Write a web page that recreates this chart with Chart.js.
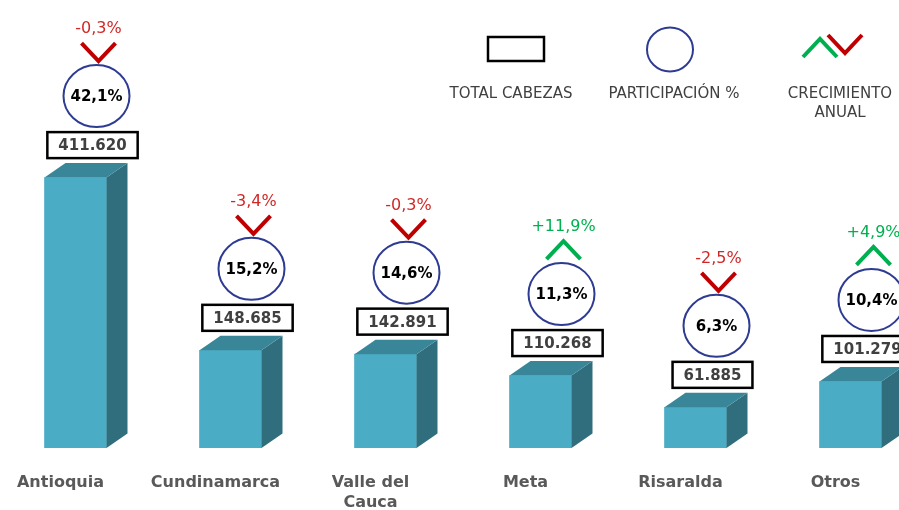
<!DOCTYPE html>
<html lang="es">
<head>
    <meta charset="UTF-8">
    <title>Inventario por departamento</title>
    <script src="https://cdn.jsdelivr.net/npm/chart.js"></script>
</head>
<style>
    html, body {
        margin: 0;
        padding: 0;
        background: white;
        overflow: hidden;
    }
    .chart-box {
        position: absolute;
        left: -2px;
        top: 0;
        width: 930px;
        height: 510px;
    }
</style>
<body>
    <div class="chart-box">
        <canvas id="barChart"></canvas>
    </div>
    <script>
        // datos
        const departamentos = ["Antioquia", "Cundinamarca", ["Valle del", "Cauca"], "Meta", "Risaralda", "Otros"];
        const totalCabezas = [411620, 148685, 142891, 110268, 61885, 101279];
        const participacion = [42.1, 15.2, 14.6, 11.3, 6.3, 10.4];
        const crecimiento = [-0.3, -3.4, -0.3, 11.9, -2.5, 4.9];

        const FONT = "'DejaVu Sans', sans-serif";
        const ROJO = "#C00000";
        const VERDE = "#00B050";
        const AZUL = "#2E3B92";

        function miles(n) {
            return n.toString().replace(/\B(?=(\d{3})+(?!\d))/g, ".");
        }
        function coma(n) {
            return n.toFixed(1).replace(".", ",");
        }

        function chevron(ctx, cx, top, up, color) {
            ctx.save();
            ctx.strokeStyle = color;
            ctx.lineWidth = 4;
            ctx.lineJoin = "miter";
            ctx.beginPath();
            if (up) {
                ctx.moveTo(cx - 17, top + 18);
                ctx.lineTo(cx, top);
                ctx.lineTo(cx + 17, top + 18);
            } else {
                ctx.moveTo(cx - 17, top);
                ctx.lineTo(cx, top + 18);
                ctx.lineTo(cx + 17, top);
            }
            ctx.stroke();
            ctx.restore();
        }

        // caras 3D y etiquetas
        const barras3D = {
            id: "barras3D",
            afterDatasetsDraw(chart) {
                const ctx = chart.ctx;
                const meta = chart.getDatasetMeta(0);
                const dx = 21, dy = 14.5;
                meta.data.forEach((bar, i) => {
                    const w = bar.width;
                    const l = bar.x - w / 2, r = bar.x + w / 2;
                    const t = bar.y, b = bar.base;
                    ctx.save();
                    // cara lateral
                    ctx.fillStyle = "#306E7D";
                    ctx.beginPath();
                    ctx.moveTo(r, t);
                    ctx.lineTo(r + dx, t - dy);
                    ctx.lineTo(r + dx, b - dy);
                    ctx.lineTo(r, b);
                    ctx.closePath();
                    ctx.fill();
                    // cara superior
                    ctx.fillStyle = "#3A8699";
                    ctx.beginPath();
                    ctx.moveTo(l, t);
                    ctx.lineTo(l + dx, t - dy);
                    ctx.lineTo(r + dx, t - dy);
                    ctx.lineTo(r, t);
                    ctx.closePath();
                    ctx.fill();

                    const yb = t - dy;
                    // caja total
                    ctx.font = "bold 15px " + FONT;
                    const txt = miles(totalCabezas[i]);
                    const bw = ctx.measureText(txt).width + 22;
                    const bh = 26;
                    const bx = bar.x + 17;
                    const boxTop = yb - 5 - bh;
                    ctx.fillStyle = "white";
                    ctx.fillRect(bx - bw / 2, boxTop, bw, bh);
                    ctx.strokeStyle = "#000";
                    ctx.lineWidth = 2.5;
                    ctx.strokeRect(bx - bw / 2, boxTop, bw, bh);
                    ctx.fillStyle = "#404040";
                    ctx.textAlign = "center";
                    ctx.textBaseline = "middle";
                    ctx.fillText(txt, bx, boxTop + bh / 2 + 1);

                    // circulo participacion
                    const cx = bar.x + 21;
                    const cy = boxTop - 36;
                    ctx.beginPath();
                    ctx.ellipse(cx, cy, 33, 31, 0, 0, Math.PI * 2);
                    ctx.strokeStyle = AZUL;
                    ctx.lineWidth = 2;
                    ctx.stroke();
                    ctx.fillStyle = "#000";
                    ctx.fillText(coma(participacion[i]) + "%", cx, cy + 1);

                    // crecimiento
                    const g = crecimiento[i];
                    const up = g > 0;
                    const chTop = cy - 31 - 4 - 18;
                    chevron(ctx, bar.x + 23, chTop, up, up ? VERDE : ROJO);
                    ctx.font = "16px " + FONT;
                    ctx.fillStyle = up ? VERDE : "#D02828";
                    ctx.fillText((up ? "+" : "") + coma(g) + "%", bar.x + 23, chTop - 14);
                    ctx.restore();
                });
            },
            afterDraw(chart) {
                // leyenda
                const ctx = chart.ctx;
                const ox = 2;
                ctx.save();
                ctx.strokeStyle = "#000";
                ctx.lineWidth = 2.5;
                ctx.strokeRect(488 + ox, 37, 56, 24);
                ctx.beginPath();
                ctx.ellipse(670 + ox, 49.5, 23, 22, 0, 0, Math.PI * 2);
                ctx.strokeStyle = AZUL;
                ctx.lineWidth = 2;
                ctx.stroke();
                chevron(ctx, 820 + ox, 39, true, VERDE);
                chevron(ctx, 845 + ox, 35, false, ROJO);
                ctx.font = "15px " + FONT;
                ctx.fillStyle = "#404040";
                ctx.textAlign = "center";
                ctx.textBaseline = "middle";
                ctx.fillText("TOTAL CABEZAS", 511 + ox, 94);
                ctx.fillText("PARTICIPACIÓN %", 674 + ox, 94);
                ctx.fillText("CRECIMIENTO", 840 + ox, 94);
                ctx.fillText("ANUAL", 840 + ox, 113);
                ctx.restore();
            }
        };

        new Chart(document.getElementById("barChart"), {
            type: "bar",
            data: {
                labels: departamentos,
                datasets: [{
                    label: "Total cabezas",
                    data: totalCabezas,
                    backgroundColor: "#4BACC6",
                    borderWidth: 0,
                    barThickness: 62
                }]
            },
            options: {
                responsive: true,
                maintainAspectRatio: false,
                animation: false,
                layout: { padding: 0 },
                plugins: {
                    legend: { display: false },
                    tooltip: { enabled: false }
                },
                scales: {
                    x: {
                        grid: { display: false, drawTicks: false },
                        border: { display: false },
                        ticks: {
                            color: "#595959",
                            font: { family: FONT, size: 16, weight: "bold", lineHeight: 1.25 },
                            padding: 25,
                            labelOffset: -15,
                            maxRotation: 0,
                            autoSkip: false
                        },
                        afterFit(scale) { scale.height = 62; }
                    },
                    y: {
                        display: false,
                        min: 0,
                        max: 682000
                    }
                }
            },
            plugins: [barras3D]
        });
    </script>
</body>
</html>
